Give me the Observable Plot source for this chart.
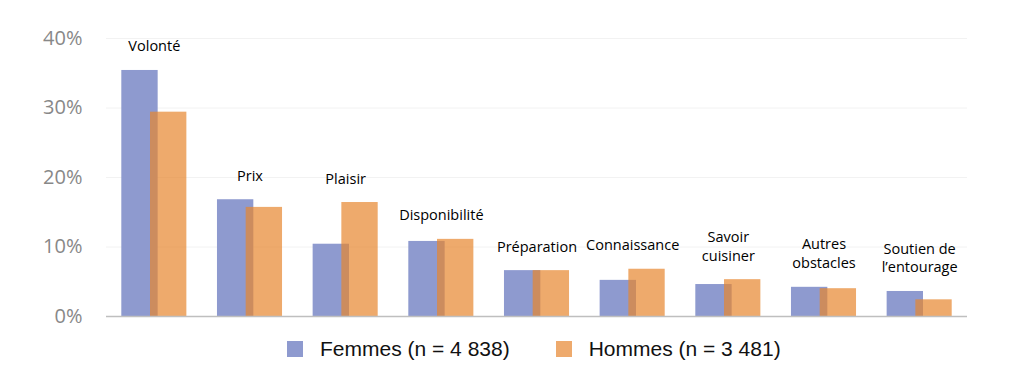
<!DOCTYPE html>
<html>
<head>
<meta charset="utf-8">
<script src="https://cdn.jsdelivr.net/npm/d3@7"></script>
<script src="https://cdn.jsdelivr.net/npm/@observablehq/plot@0.6"></script>
<style>
  html, body { margin: 0; padding: 0; background: #fff; }
  #chart { width: 1010px; }
  .legend { display: flex; align-items: center; height: 34px; padding-left: 287px;
            font-family: "Liberation Sans", Arial, sans-serif; font-size: 21px; color: #111; }
  .legend .sw { width: 16px; height: 16px; display: inline-block; margin-right: 17px; }
  .legend .item { display: flex; align-items: center; }
  .legend .item + .item { margin-left: 46px; }
</style>
</head>
<body>
<div id="chart"></div>
<script>
const categories = ["Volonté", "Prix", "Plaisir", "Disponibilité", "Préparation", "Connaissance", "Savoir\ncuisiner", "Autres\nobstacles", "Soutien de\nl’entourage"];
const femmes = [35.4, 16.8, 10.4, 10.8, 6.6, 5.2, 4.6, 4.2, 3.6];
const hommes = [29.4, 15.7, 16.4, 11.1, 6.6, 6.8, 5.3, 4.0, 2.4];
const yTicks = [0, 10, 20, 30, 40];
const seriesNames = ["Femmes (n = 4 838)", "Hommes (n = 3 481)"];
const seriesColors = ["#8e9acf", "#eeaa6d"];

const rows = categories.map((c, i) => ({i, c, f: femmes[i], h: hommes[i], top: Math.max(femmes[i], hommes[i])}));

const chart = Plot.plot({
  width: 1010,
  height: 332,
  marginLeft: 106,
  marginRight: 43,
  marginTop: 38,
  marginBottom: 16,
  style: {fontFamily: "'Open Sans', sans-serif", fontSize: "13px", background: "#fff"},
  x: {domain: [-0.5, categories.length - 0.5], axis: null},
  y: {domain: [0, 40], axis: null},
  marks: [
    Plot.gridY(yTicks.slice(1), {stroke: "#f2f2f2", strokeOpacity: 1}),
    Plot.axisY(yTicks, {tickSize: 0, tickPadding: 24, tickFormat: d => d + "%", fontSize: 20, fill: "#888888"}),
    Plot.rectY(rows, {x1: d => d.i - 0.34, x2: d => d.i + 0.04, y1: 0, y2: "f", fill: seriesColors[0]}),
    Plot.rectY(rows, {x1: d => d.i - 0.04, x2: d => d.i + 0.34, y1: 0, y2: "h", fill: "#e7862e", fillOpacity: 0.7}),
    Plot.ruleY([0], {stroke: "#bfbfbf", strokeWidth: 1.5}),
    Plot.text(rows, {x: "i", y: "top", text: "c", dy: -19, lineAnchor: "bottom", fontSize: 14.5, fill: "#000", lineHeight: 1.3})
  ]
});
document.getElementById("chart").appendChild(chart);

const legend = document.createElement("div");
legend.className = "legend";
seriesNames.forEach((n, k) => {
  const item = document.createElement("div");
  item.className = "item";
  const sw = document.createElement("span");
  sw.className = "sw";
  sw.style.background = seriesColors[k];
  item.appendChild(sw);
  item.appendChild(document.createTextNode(n));
  legend.appendChild(item);
});
document.getElementById("chart").appendChild(legend);
</script>
</body>
</html>
